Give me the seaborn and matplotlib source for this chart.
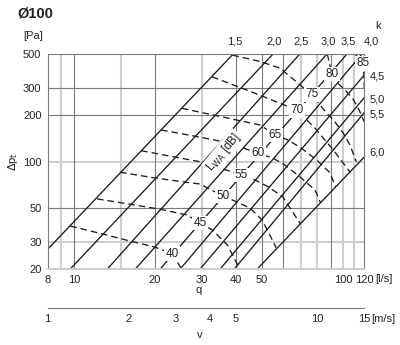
import numpy as np
import pandas as pd
import matplotlib
matplotlib.use("Agg")
import matplotlib.pyplot as plt
from matplotlib.ticker import NullLocator, FixedLocator
import seaborn as sns

sns.set_theme(style="white")
plt.rcParams['font.family'] = ['Liberation Sans', 'DejaVu Sans']

# --- damper characteristic lines (straight in log-log), flow at 20 Pa and at 500 Pa ---
k_values = [1.5, 2.0, 2.5, 3.0, 3.5, 4.0, 4.5, 5.0, 5.5, 6.0]
k_labels = ["1,5", "2,0", "2,5", "3,0", "3,5", "4,0", "4,5", "5,0", "5,5", "6,0"]
q_at_20pa = [6.8, 9.68, 13.3, 16.9, 20.9, 24.8, 29.4, 34.9, 39.4, 47.9]
q_at_500pa = [39.1, 55.0, 69.1, 87.2, 103.5, 117.7, 139.6, 164.2, 182.0, 278.4]

# --- sound power contours L_WA [dB] ---
lwa_levels = [40, 45, 50, 55, 60, 65, 70, 75, 80, 85]
lwa_q = [
    [9.7, 12.8, 16.2, 20.0, 23.2, 25.2],
    [12.2, 16.2, 20.9, 26.4, 29.4, 32.7, 37.2, 41.4],
    [14.85, 19.7, 26.4, 29.4, 35.8, 38.8, 45.1, 50.1, 56.5],
    [17.8, 29.4, 42.0, 47.1, 52.9, 59.8, 69.5],
    [21.1, 29.4, 38.0, 48.5, 54.9, 60.8, 69.2, 78.7, 82.6],
    [25.2, 49.2, 56.0, 62.6, 70.2, 79.9, 89.5, 93.9],
    [32.6, 49.2, 67.4, 78.7, 92.1, 106.2],
    [38.8, 49.2, 58.3, 71.0, 77.0, 85.0, 93.4, 100.3, 106.2, 112.0],
    [87.4, 91.0, 95.8, 101.8, 108.6, 114.7, 120.0],
    [110.8, 119.0, 120.0],
]
lwa_dp = [
    [38.2, 33.9, 30.5, 27.9, 25.2, 20.0],
    [57.3, 52.9, 49.1, 45.0, 40.0, 36.0, 28.8, 20.0],
    [85.4, 78.7, 73.3, 71.6, 59.8, 56.4, 50.0, 41.8, 27.6],
    [117.8, 99.9, 82.0, 76.0, 68.5, 59.0, 39.4],
    [160.5, 144.3, 132.0, 113.0, 105.6, 95.1, 79.6, 65.5, 54.0],
    [222.0, 173.0, 149.0, 138.0, 122.0, 102.5, 84.6, 68.5],
    [356.0, 270.0, 216.0, 165.0, 119.0, 85.6],
    [492.0, 447.0, 405.0, 304.0, 273.0, 216.5, 181.0, 153.0, 128.0, 100.0],
    [500.0, 371.0, 322.0, 292.0, 257.0, 217.0, 181.0],
    [500.0, 435.0, 300.0],
]
lwa_label_q = [23.2, 29.4, 35.8, 42.0, 48.5, 56.0, 67.4, 77.0, 91.0, 119.0]
lwa_label_dp = [25.2, 40.0, 59.8, 82.0, 113.0, 149.0, 216.0, 273.0, 371.0, 435.0]

# --- axes ticks and grid ---
q_ticks = [8, 10, 20, 30, 40, 50, 100, 120]
dp_ticks = [20, 30, 50, 100, 200, 300, 500]
q_grid_dark = [10, 20, 40, 50, 60, 90]
q_grid_light = [9, 15, 30, 70, 80, 100, 110]
dp_grid_dark = [50, 200, 300]
dp_grid_light = [30, 100]
v_ticks = [1, 2, 3, 4, 5, 10, 15]
v_minor = [6, 7, 8, 9, 11, 12, 13, 14]

W, H = 400, 345
x0, x1, y0, y1 = 47.7, 364.3, 54.0, 269.3
fig = plt.figure(figsize=(W / 100, H / 100), dpi=100)
ax = fig.add_axes([x0 / W, 1 - y1 / H, (x1 - x0) / W, (y1 - y0) / H])
ax.set_xscale('log')
ax.set_yscale('log')

dark, light = '#7a7a7a', '#cdcdcd'
for q in q_grid_light:
    ax.axvline(q, color=light, lw=1.5, zorder=0)
for d in dp_grid_light:
    ax.axhline(d, color=light, lw=1.5, zorder=0)
for q in q_grid_dark:
    ax.axvline(q, color=dark, lw=0.8, zorder=0.5)
for d in dp_grid_dark:
    ax.axhline(d, color=dark, lw=0.8, zorder=0.5)

# characteristic lines, interpolated in log-log between the two anchors
frac = np.linspace(-0.3, 1.0, 40)
frames = []
for k, qa, qb in zip(k_values, q_at_20pa, q_at_500pa):
    frames.append(pd.DataFrame({
        'k': k,
        'q': qa * (qb / qa) ** frac,
        'dp': 20 * (500 / 20) ** frac,
    }))
lines_df = pd.concat(frames, ignore_index=True)
sns.lineplot(data=lines_df, x='q', y='dp', units='k', estimator=None, sort=False,
             color='#1c1c1c', lw=0.95, ax=ax, legend=False)

# sound power contours
frames = []
for lvl, qs, dps in zip(lwa_levels, lwa_q, lwa_dp):
    frames.append(pd.DataFrame({'level': lvl, 'q': qs, 'dp': dps}))
lwa_df = pd.concat(frames, ignore_index=True)
sns.lineplot(data=lwa_df, x='q', y='dp', units='level', estimator=None, sort=False,
             color='#1c1c1c', lw=0.95, linestyle=(0, (5, 3)), ax=ax, legend=False)

for lvl, q, d in zip(lwa_levels, lwa_label_q, lwa_label_dp):
    ax.text(q, d, str(lvl), ha='center', va='center', fontsize=8.5, color='#222',
            bbox=dict(boxstyle='square,pad=0.12', fc='white', ec='none'), zorder=5)
ax.text(36.0, 115, r"L$_{\rm WA}$ [dB]", rotation=50, rotation_mode='anchor',
        ha='center', va='center', fontsize=8.5, color='#222',
        bbox=dict(boxstyle='square,pad=0.1', fc='white', ec='none'), zorder=5)

ax.set_xlim(8, 120)
ax.set_ylim(20, 500)

# k labels at the line ends (top edge, or right edge for the open settings)
for lab, qa, qb in zip(k_labels, q_at_20pa, q_at_500pa):
    if qb <= 121:
        shift = 7 if qb > 110 else 1
        ax.annotate(lab, (min(qb, 120), 500), xytext=(shift, 9), textcoords='offset points',
                    ha='center', va='center', fontsize=8, color='#222', annotation_clip=False)
    else:
        t = np.log(120 / qa) / np.log(qb / qa)
        d120 = 20 * 25 ** t
        lift = 3.5 if d120 < 150 else -1.2
        ax.annotate(lab, (120, d120), xytext=(4, lift), textcoords='offset points',
                    ha='left', va='center', fontsize=8, color='#222', annotation_clip=False)

ax.xaxis.set_major_locator(FixedLocator(q_ticks))
ax.xaxis.set_minor_locator(NullLocator())
ax.set_xticklabels([str(t) for t in q_ticks])
ax.yaxis.set_major_locator(FixedLocator(dp_ticks))
ax.yaxis.set_minor_locator(NullLocator())
ax.set_yticklabels([str(t) for t in dp_ticks])
ax.tick_params(axis='both', length=0, labelsize=8, colors='#222')
ax.tick_params(axis='x', pad=4)
ax.tick_params(axis='y', pad=4.5)
ax.set_xlabel('')
ax.set_ylabel('')
for s in ['left', 'top', 'right']:
    ax.spines[s].set_color(dark)
    ax.spines[s].set_linewidth(0.8)
ax.spines['bottom'].set_color(light)
ax.spines['bottom'].set_linewidth(1.5)

# velocity scale below
vy = 308.3
axv = fig.add_axes([x0 / W, 1 - vy / H, (x1 - x0) / W, 0.03])
axv.set_xscale('log')
axv.set_xlim(1, 15)
axv.set_yticks([])
axv.patch.set_alpha(0)
for s in ['left', 'top', 'right']:
    axv.spines[s].set_visible(False)
axv.spines['bottom'].set_color(dark)
axv.spines['bottom'].set_linewidth(0.8)
axv.xaxis.set_major_locator(FixedLocator(v_ticks))
axv.xaxis.set_minor_locator(FixedLocator(v_minor))
axv.set_xticklabels([str(t) for t in v_ticks])
axv.xaxis.set_minor_formatter(plt.NullFormatter())
axv.tick_params(axis='x', which='major', direction='in', length=7.5, width=0.8,
                color=dark, labelsize=8, labelcolor='#222', pad=4)
axv.tick_params(axis='x', which='minor', direction='in', length=7.5, width=0.8,
                color='#9a9a9a')

# titles and units
fig.text(17 / W, 1 - 13 / H, "Ø100", fontsize=10.5, fontweight='bold', color='#222',
         va='center', ha='left')
fig.text(33 / W, 1 - 36 / H, "[Pa]", fontsize=8, color='#222', va='center', ha='center')
fig.text(13 / W, 1 - 162 / H, r"$\Delta$p$_{\rm t}$", fontsize=8, color='#222',
         rotation=90, va='center', ha='center')
fig.text(378 / W, 1 - 26 / H, "k", fontsize=8, color='#222', va='center', ha='center')
fig.text(198.5 / W, 1 - 290 / H, "q", fontsize=8, color='#222', va='center', ha='center')
fig.text(199.5 / W, 1 - 335 / H, "v", fontsize=8, color='#222', va='center', ha='center')
fig.text(375 / W, 1 - 279.5 / H, "[l/s]", fontsize=8, color='#222', va='center', ha='left')
fig.text(371 / W, 1 - 318.5 / H, "[m/s]", fontsize=8, color='#222', va='center', ha='left')

fig.savefig("out.png", dpi=100)
